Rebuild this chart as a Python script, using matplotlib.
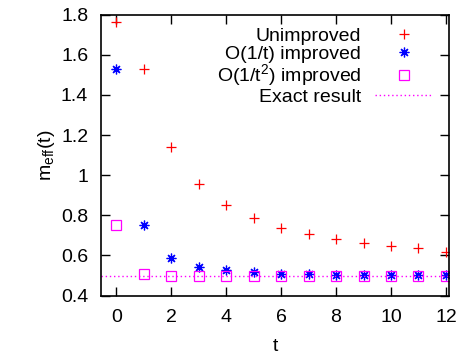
import matplotlib
matplotlib.use("Agg")
import matplotlib.pyplot as plt
from matplotlib.ticker import FormatStrFormatter

plt.rcParams['font.family'] = ['Liberation Sans', 'DejaVu Sans']
plt.rcParams['mathtext.fontset'] = 'custom'
plt.rcParams['mathtext.rm'] = 'Liberation Sans'
plt.rcParams['mathtext.it'] = 'Liberation Sans'

# effective mass data
t = [0, 1, 2, 3, 4, 5, 6, 7, 8, 9, 10, 11, 12]
unimproved = [1.765, 1.529, 1.139, 0.955, 0.851, 0.787, 0.738, 0.708, 0.680, 0.662, 0.647, 0.636, 0.618]
improved_1 = [1.529, 0.752, 0.589, 0.541, 0.527, 0.516, 0.510, 0.506, 0.504, 0.503, 0.502, 0.501, 0.501]
improved_2 = [0.752, 0.507, 0.497, 0.497, 0.499, 0.499, 0.500, 0.500, 0.500, 0.500, 0.500, 0.500, 0.500]
exact_mass = 0.5
x_ticks = [0, 2, 4, 6, 8, 10, 12]
y_ticks = [0.4, 0.6, 0.8, 1.0, 1.2, 1.4, 1.6, 1.8]

fs = 14

fig = plt.figure(figsize=(4.61, 3.54), dpi=100)
ax = fig.add_axes([0.2184, 0.165, 0.7566, 0.7935])

ax.plot(t, unimproved, ls='none', marker='+', ms=7, mew=0.9, color='#ff0000', label='Unimproved')
ax.plot(t, improved_1, ls='none', marker=(8, 2, 0), ms=7, mew=0.9, color='#0000ff', label='O(1/t) improved')
ax.plot(t, improved_2, ls='none', marker='s', ms=6.5, mew=0.9, mfc='none', color='#ff00ff',
        label='O(1/t$^2$) improved')
ax.axhline(exact_mass, color='#ff00ff', ls=(0, (1, 2)), lw=1.0, label='Exact result')

ax.set_xlim(-0.57, 12.13)
ax.set_ylim(0.4, 1.8)
ax.set_xticks(x_ticks)
ax.set_yticks(y_ticks)
ax.yaxis.set_major_formatter(FormatStrFormatter('%g'))
ax.tick_params(direction='in', length=6.5, width=1.0, top=True, right=True, labelsize=fs)
ax.tick_params(axis='y', pad=9)
ax.tick_params(axis='x', pad=10)
for s in ax.spines.values():
    s.set_linewidth(1.2)

ax.set_xlabel('t', fontsize=fs, labelpad=8)
ax.set_ylabel(r'm$_{\mathrm{eff}}$(t)', fontsize=fs, labelpad=3)

ax.legend(loc='upper right', bbox_to_anchor=(0.953, 0.955), frameon=False, markerfirst=False,
          fontsize=fs, handlelength=3.0, handletextpad=0.7, labelspacing=0.0,
          borderpad=0, borderaxespad=0, numpoints=1)

fig.savefig('out.png', dpi=100)
